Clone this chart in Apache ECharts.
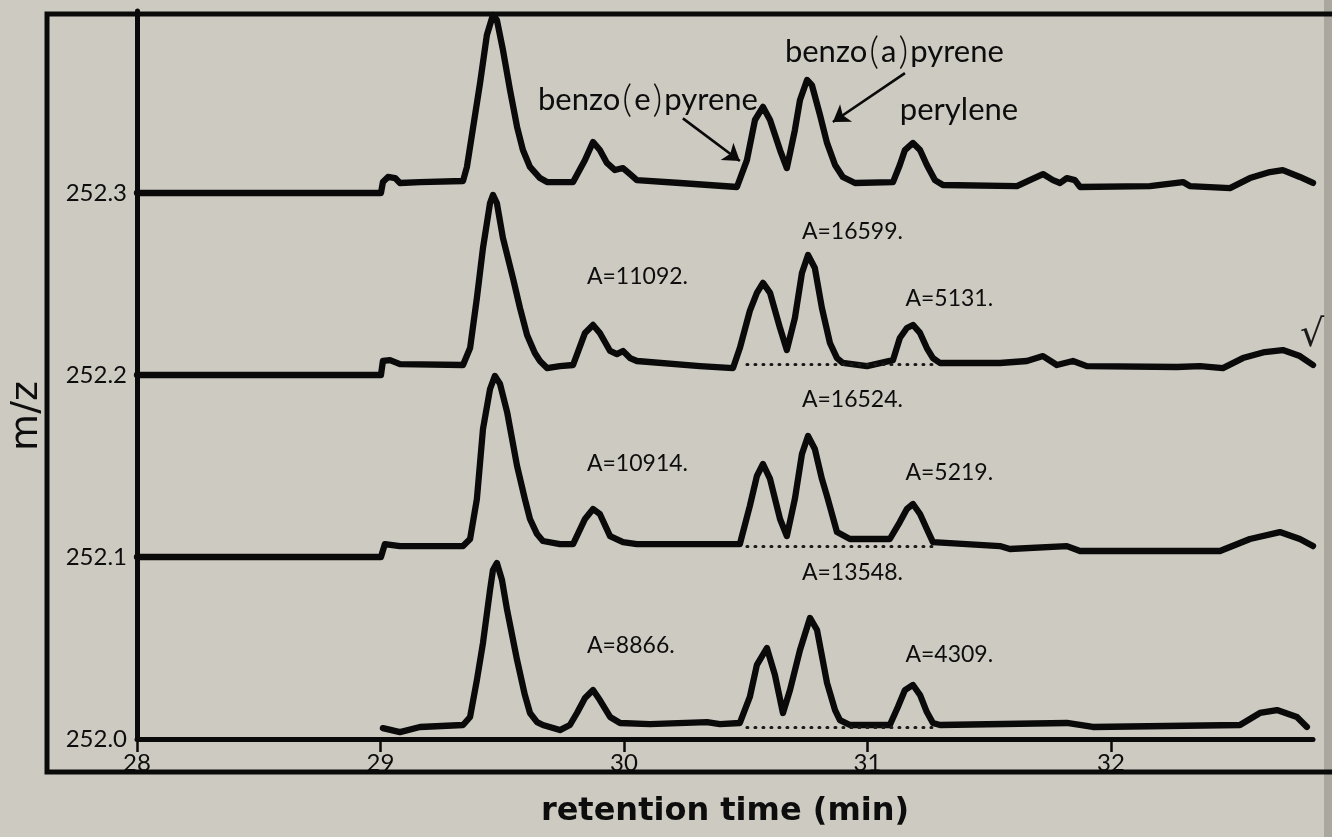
<!DOCTYPE html>
<html><head><meta charset="utf-8">
<script src="https://cdn.jsdelivr.net/npm/echarts@6/dist/echarts.min.js"></script>
<style>html,body{margin:0;padding:0;background:#cdcac1;}#c{width:1332px;height:837px;}</style>
</head><body><div id="c"></div>
<script>
// ---------------- DATA ----------------
// tick labels
const xTicks = [28, 29, 30, 31, 32];            // retention time (min)
const yTicks = [252.0, 252.1, 252.2, 252.3];    // m/z channel of each trace

// traces: [retention time (min), signal above channel baseline (in 0.001 m/z-axis units)]
const trace252_3 = [[28.000,0],[29.002,0],[29.010,6.0],[29.031,8.8],[29.060,8.2],[29.080,5.5],[29.162,6.0],[29.339,6.6],[29.355,14.3],[29.409,60.4],[29.437,86.8],[29.462,97.8],[29.478,95.1],[29.503,78.6],[29.532,56.6],[29.561,36.3],[29.585,23.6],[29.614,14.3],[29.655,8.2],[29.684,6.0],[29.791,6.0],[29.840,18.1],[29.873,28.0],[29.901,23.6],[29.930,16.5],[29.963,12.6],[29.996,13.7],[30.025,10.4],[30.053,7.1],[30.230,5.5],[30.464,3.3],[30.505,18.1],[30.538,40.1],[30.571,47.3],[30.600,40.1],[30.641,23.6],[30.669,13.7],[30.702,34.6],[30.723,51.1],[30.752,62.1],[30.772,59.3],[30.805,42.9],[30.834,27.5],[30.867,15.4],[30.899,8.8],[30.949,5.5],[31.105,6.0],[31.133,15.4],[31.154,23.6],[31.187,27.5],[31.216,23.6],[31.244,15.4],[31.277,7.1],[31.310,4.4],[31.614,3.8],[31.667,7.1],[31.721,10.4],[31.762,7.1],[31.791,5.5],[31.819,8.2],[31.852,7.1],[31.873,3.3],[32.160,3.8],[32.296,6.0],[32.324,3.8],[32.489,2.7],[32.571,8.2],[32.653,11.5],[32.706,12.6],[32.776,8.8],[32.830,5.5]];
const trace252_2 = [[28.000,0],[29.002,0],[29.010,7.7],[29.039,8.2],[29.080,6.0],[29.339,5.5],[29.368,14.8],[29.396,42.3],[29.421,69.8],[29.450,94.5],[29.462,98.9],[29.478,94.5],[29.503,75.3],[29.544,53.3],[29.573,36.8],[29.602,22.0],[29.634,12.1],[29.655,7.7],[29.684,3.8],[29.737,4.9],[29.791,5.5],[29.840,23.1],[29.873,27.5],[29.901,23.1],[29.943,13.2],[29.971,11.5],[29.996,13.2],[30.025,9.3],[30.053,7.7],[30.312,4.9],[30.448,3.8],[30.476,14.8],[30.517,35.2],[30.546,45.1],[30.571,50.6],[30.600,45.1],[30.641,25.8],[30.669,13.7],[30.702,31.3],[30.731,56.0],[30.756,65.9],[30.784,58.8],[30.813,36.8],[30.846,17.6],[30.875,9.3],[30.899,6.6],[30.998,4.9],[31.105,8.2],[31.133,20.3],[31.162,25.8],[31.187,27.5],[31.216,23.1],[31.244,14.8],[31.269,9.3],[31.298,6.6],[31.544,6.6],[31.655,7.7],[31.721,10.4],[31.778,5.5],[31.844,7.7],[31.901,4.9],[32.271,4.4],[32.366,4.9],[32.460,3.8],[32.542,9.3],[32.632,12.6],[32.706,13.7],[32.776,10.4],[32.830,5.5]];
const trace252_1 = [[28.000,0],[29.002,0],[29.018,7.1],[29.080,6.0],[29.339,6.0],[29.368,9.9],[29.396,31.9],[29.421,70.3],[29.450,92.3],[29.470,99.5],[29.491,95.1],[29.520,79.7],[29.561,50.0],[29.593,31.9],[29.614,20.9],[29.643,12.6],[29.667,8.8],[29.737,7.1],[29.791,7.1],[29.840,20.9],[29.873,26.4],[29.901,23.6],[29.943,11.5],[29.996,8.2],[30.053,7.1],[30.476,7.1],[30.517,28.0],[30.546,44.5],[30.571,51.1],[30.600,42.9],[30.641,20.9],[30.669,11.5],[30.702,31.9],[30.731,56.6],[30.756,66.5],[30.784,59.3],[30.813,42.9],[30.834,33.5],[30.875,13.7],[30.928,9.9],[31.092,9.9],[31.133,19.2],[31.162,26.4],[31.187,29.1],[31.216,23.6],[31.244,15.4],[31.269,8.2],[31.544,6.0],[31.585,4.4],[31.819,6.0],[31.873,3.3],[32.448,3.3],[32.571,9.9],[32.694,13.7],[32.776,9.9],[32.830,6.0]];
const trace252_0 = [[29.010,6.0],[29.080,3.8],[29.162,6.6],[29.339,7.7],[29.368,12.1],[29.396,32.4],[29.421,52.8],[29.450,81.9],[29.462,92.9],[29.478,96.7],[29.499,87.4],[29.520,70.9],[29.561,43.4],[29.593,24.2],[29.614,14.3],[29.643,9.3],[29.667,7.7],[29.737,4.9],[29.778,7.7],[29.807,14.3],[29.840,22.5],[29.873,26.9],[29.901,21.4],[29.943,12.1],[29.984,8.8],[30.107,8.2],[30.341,9.3],[30.394,8.2],[30.476,8.8],[30.517,23.1],[30.546,40.7],[30.587,50.0],[30.620,35.2],[30.653,14.3],[30.682,26.9],[30.723,48.9],[30.764,66.5],[30.793,59.9],[30.834,30.8],[30.867,15.9],[30.887,10.4],[30.928,7.7],[31.092,7.7],[31.125,17.6],[31.154,26.9],[31.187,29.7],[31.216,24.2],[31.244,14.8],[31.269,8.8],[31.298,7.7],[31.819,8.8],[31.926,6.6],[32.530,7.7],[32.612,14.3],[32.682,15.9],[32.764,12.1],[32.805,6.6]];

// integrated peak areas: benzo(e)pyrene, benzo(a)pyrene, perylene
const areas252_2 = [11092, 16599, 5131];
const areas252_1 = [10914, 16524, 5219];
const areas252_0 = [8866, 13548, 4309];
const compounds = ['benzo(e)pyrene', 'benzo(a)pyrene', 'perylene'];
// integration baseline window (min) and level (0.001 units)
const integWindow = [30.505, 31.28];
const integLevel = [6.0, 6.0, 6.6];

// ---------------- LAYOUT (anchors in axis coordinates) ----------------
const areaLabelAt = {
  '252.2': [[29.848, 252.254], [30.731, 252.2786], [31.156, 252.2418]],
  '252.1': [[29.848, 252.1511], [30.731, 252.1863], [31.156, 252.1462]],
  '252.0': [[29.848, 252.0516], [30.731, 252.0912], [31.156, 252.0462]]
};
const nameLabelAt = [[29.647, 252.3511], [30.661, 252.3775], [31.133, 252.3456]];
const arrowLines = [
  [[30.242, 252.341], [30.476, 252.3176]],
  [[31.154, 252.3659], [30.858, 252.339]]
];

const INK = '#0a0a0a';
const FONT = 'Lato, "DejaVu Sans", sans-serif';

function toSeriesData(base, tr) {
  return tr.map(p => [p[0], +(base + p[1] / 1000).toFixed(5)]);
}

function areaMarks(base, areas) {
  const pos = areaLabelAt[base.toFixed(1)];
  return {
    silent: true, symbol: 'circle', symbolSize: 0,
    label: { show: true, position: 'right', distance: 0, color: '#0d0d0d', fontFamily: FONT, fontSize: 23, formatter: p => p.name },
    data: areas.map((a, i) => ({ name: 'A=' + a + '.', coord: pos[i] }))
  };
}
function integLine(base, lvl) {
  const y = +(base + lvl / 1000).toFixed(5);
  return {
    silent: true, symbol: 'none', label: { show: false },
    lineStyle: { type: [1, 7], color: '#1a1a1a', width: 3, cap: 'round' },
    emphasis: { disabled: true },
    data: [[{ coord: [integWindow[0], y] }, { coord: [integWindow[1], y] }]]
  };
}

function trace(base, tr, extra) {
  return Object.assign({
    type: 'line', name: 'm/z ' + base.toFixed(1),
    data: toSeriesData(base, tr),
    showSymbol: false, symbol: 'none', silent: true, z: 3,
    lineStyle: { color: INK, width: 6.3, join: 'round', cap: 'round' },
    animation: false
  }, extra || {});
}

function nameFormatter(p) {
  // enlarge the parentheses like the original lettering
  return p.name.replace(/\(/g, '{p|(}').replace(/\)/g, '{p|)}');
}

const series = [
  trace(252.3, trace252_3, {
    markPoint: {
      silent: true, symbol: 'circle', symbolSize: 0,
      label: {
        show: true, position: 'right', distance: 0, color: '#0d0d0d', fontFamily: FONT, fontSize: 31,
        formatter: nameFormatter,
        rich: { p: { fontFamily: FONT, fontSize: 38, color: '#0d0d0d', fontWeight: 300, padding: [0, 2, 0, 2] } }
      },
      data: compounds.map((c, i) => ({ name: c, coord: nameLabelAt[i] }))
    },
    markLine: {
      silent: true, symbol: ['none', 'arrow'], symbolSize: 16, label: { show: false },
      lineStyle: { type: 'solid', color: INK, width: 2.6 },
      emphasis: { disabled: true },
      data: arrowLines.map(l => [{ coord: l[0] }, { coord: l[1] }])
    }
  }),
  trace(252.2, trace252_2, { markPoint: areaMarks(252.2, areas252_2), markLine: integLine(252.2, integLevel[0]) }),
  trace(252.1, trace252_1, { markPoint: areaMarks(252.1, areas252_1), markLine: integLine(252.1, integLevel[1]) }),
  trace(252.0, trace252_0, { markPoint: areaMarks(252.0, areas252_0), markLine: integLine(252.0, integLevel[2]) })
];

const chart = echarts.init(document.getElementById('c'), null, { renderer: 'canvas' });
chart.setOption({
  backgroundColor: '#cdcac1',
  animation: false,
  grid: { left: 137, right: 19, top: 11, bottom: 98 },
  xAxis: {
    type: 'value', min: 28, max: 32.83, interval: 1,
    name: 'retention time (min)', nameLocation: 'middle', nameGap: 57,
    nameTextStyle: { fontFamily: '"DejaVu Sans", sans-serif', fontWeight: 'bold', fontSize: 32, color: '#0d0d0d' },
    axisLine: { onZero: false, lineStyle: { color: INK, width: 5 } },
    axisTick: { show: true, length: 13, customValues: xTicks, lineStyle: { color: INK, width: 2.5 } },
    axisLabel: { customValues: xTicks, margin: 12, fontFamily: FONT, fontSize: 24, color: '#0d0d0d', formatter: v => String(v) },
    splitLine: { show: false }
  },
  yAxis: {
    type: 'value', min: 252.0, max: 252.4, interval: 0.1,
    axisLine: { onZero: false, lineStyle: { color: INK, width: 5 } },
    axisTick: { show: false },
    axisLabel: { customValues: yTicks, margin: 10, fontFamily: FONT, fontSize: 24, color: '#0d0d0d', formatter: v => v.toFixed(1) },
    splitLine: { show: false }
  },
  graphic: [
    { type: 'rect', shape: { x: 1324, y: 0, width: 8, height: 837 }, style: { fill: '#aaa79f' }, z: 1, silent: true },
    { type: 'polyline', shape: { points: [[1340, 14], [47, 14], [47, 772], [1340, 772]] }, style: { stroke: INK, lineWidth: 5, fill: null }, z: 10, silent: true },
    { type: 'text', x: 27, y: 416, rotation: Math.PI / 2, style: { text: 'm/z', fontFamily: '"DejaVu Sans", sans-serif', fontSize: 38, fill: '#0d0d0d', align: 'center', verticalAlign: 'middle' }, z: 10, silent: true },
    { type: 'text', x: 1312, y: 336, style: { text: '\u221A', fontFamily: '"DejaVu Sans", sans-serif', fontSize: 38, fill: '#1a1a1a', align: 'center', verticalAlign: 'middle' }, z: 10, silent: true }
  ],
  series: series
});
</script>
</body></html>
